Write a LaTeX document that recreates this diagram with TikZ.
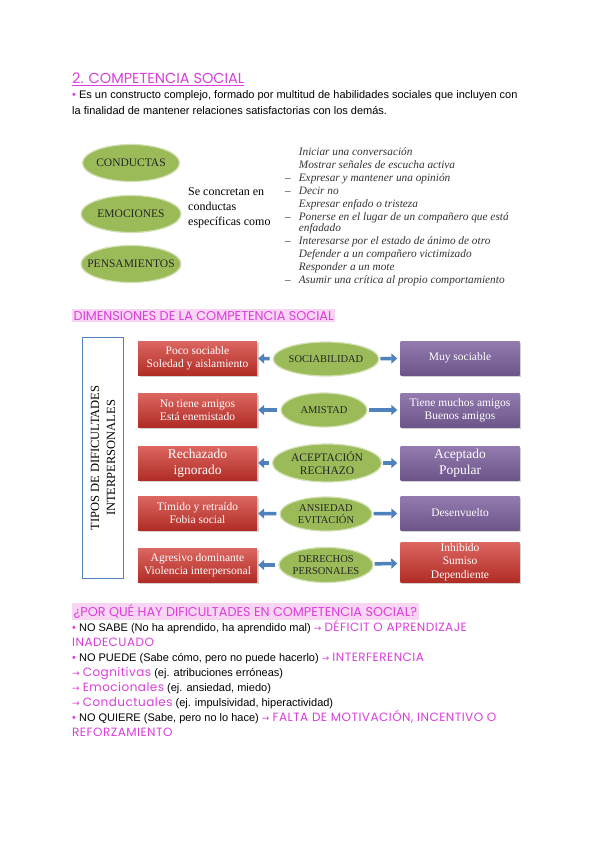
\documentclass[tikz,border=0pt]{standalone}
\usepackage{fontspec}
\setmainfont{Liberation Serif}
\setsansfont{Liberation Sans}
\newfontfamily\headfont{Poppins}
\newfontfamily\headwide[LetterSpace=4]{Poppins}
\newfontfamily\symfont{DejaVu Sans}
\usetikzlibrary{arrows.meta, positioning, shapes.geometric, shadows}
\definecolor{headmag}{HTML}{DB3EDB}
\definecolor{hlpink}{HTML}{F8D5F3}
\definecolor{ovalgreen}{HTML}{9BBB59}
\definecolor{boxred}{HTML}{D0342C}
\definecolor{boxpurple}{HTML}{8064A2}
\definecolor{arrowblue}{HTML}{4F81BD}
\definecolor{listgrey}{HTML}{333333}
\newcommand{\punto}{{\color{headmag}\textbullet}}
\newcommand{\flecha}{{\symfont\fontsize{9}{10}\selectfont\color{headmag}→}}
\newcommand{\magtxt}[1]{{\headwide\fontsize{12}{13}\selectfont\color{headmag}#1}}

\begin{document}
\begin{tikzpicture}[x=1pt, y=-1pt,
  headtxt/.style={font=\headfont\fontsize{12.8}{15}\selectfont, text=headmag, anchor=base west, inner sep=0pt},
  hilite/.style={headtxt, fill=hlpink, inner sep=1.5pt},
  bodytxt/.style={font=\sffamily\fontsize{11}{13}\selectfont, anchor=base west, inner sep=0pt},
  greenoval/.style={ellipse, fill=ovalgreen, draw=ovalgreen!45!white, line width=1.2pt, inner sep=0pt,
    align=center, text=black!85, font=\fontsize{10.5}{12}\selectfont},
  topoval/.style={greenoval, minimum height=37pt, inner xsep=-12pt, font=\fontsize{11.5}{13}\selectfont},
  dimbox/.style={rectangle, minimum width=119pt, minimum height=34pt, inner sep=1pt, text=white,
    align=center, font=\fontsize{11.5}{13.5}\selectfont,
    drop shadow={opacity=0.35, shadow xshift=1.5pt, shadow yshift=-1.5pt}},
  negbox/.style={dimbox, top color=boxred!75!white, bottom color=boxred!85!black},
  posbox/.style={dimbox, top color=boxpurple!85!white, bottom color=boxpurple!85!black},
  sidearrow/.style={draw=arrowblue, line width=3.5pt, -{Triangle[length=6pt, width=10pt]}}
]
\useasboundingbox[fill=white] (0,0) rectangle (600,848);

% encabezado
\node[headtxt, font=\headfont\fontsize{14.5}{17}\selectfont] (titulo) at (72,84) {\underline{2. COMPETENCIA SOCIAL}};
\node[bodytxt] (def1) at (72,99) {\punto{} Es un constructo complejo, formado por multitud de habilidades sociales que incluyen con};
\node[bodytxt] (def2) at (72,115) {la finalidad de mantener relaciones satisfactorias con los demás.};

% componentes
\node[topoval, minimum width=97pt] (conductas) at (131,163) {CONDUCTAS};
\node[topoval, minimum width=100pt] (emociones) at (131,214) {EMOCIONES};
\node[topoval, minimum width=100pt] (pensamientos) at (131,264) {PENSAMIENTOS};
\node[anchor=west, align=left, inner sep=0pt, font=\fontsize{12}{15}\selectfont] (concretan) at (188,208)
  {Se concretan en\\conductas\\específicas como};
\node[anchor=base west, inner sep=0pt, text=listgrey, font=\itshape\fontsize{11.3}{13}\selectfont] (lista) at (285,155)
  {\begin{tabular}[t]{@{}l@{\hspace{8pt}}l@{}}
   & Iniciar una conversación\\
   & Mostrar señales de escucha activa\\
  -- & Expresar y mantener una opinión\\
  -- & Decir no\\
   & Expresar enfado o tristeza\\
  -- & Ponerse en el lugar de un compañero que está\\[-2pt]
   & enfadado\\
  -- & Interesarse por el estado de ánimo de otro\\
   & Defender a un compañero victimizado\\
   & Responder a un mote\\
  -- & Asumir una crítica al propio comportamiento
  \end{tabular}};

% dimensiones
\node[hilite] (dimtit) at (72,320) {DIMENSIONES DE LA COMPETENCIA SOCIAL};
\node[draw=arrowblue, line width=1pt, fill=white, rotate=90, minimum width=241pt, minimum height=41pt,
  align=center, inner sep=0pt, font=\fontsize{12.5}{16}\selectfont] (tipos) at (103,458)
  {TIPOS DE DIFICULTADES\\INTERPERSONALES};

\node[negbox] (poco) at (197.5,358) {Poco sociable\\Soledad y aislamiento};
\node[greenoval, minimum width=92pt, minimum height=34pt, font=\fontsize{10.5}{12}\selectfont] (sociab) at (326,359) {SOCIABILIDAD};
\node[posbox] (muy) at (460,358) {Muy sociable};

\node[negbox] (noamigos) at (197.5,410) {No tiene amigos\\Está enemistado};
\node[greenoval, minimum width=86pt, minimum height=34pt, font=\fontsize{10.5}{12}\selectfont] (amistad) at (324,410) {AMISTAD};
\node[posbox] (muchos) at (460,410) {Tiene muchos amigos\\Buenos amigos};

\node[negbox, font=\fontsize{13.5}{16}\selectfont] (rechazado) at (197.5,463) {Rechazado\\ignorado};
\node[greenoval, minimum width=109pt, minimum height=38pt, font=\fontsize{11.5}{13}\selectfont] (acept) at (327,463) {ACEPTACIÓN\\RECHAZO};
\node[posbox, font=\fontsize{13.5}{16}\selectfont] (aceptado) at (460,463) {Aceptado\\Popular};

\node[negbox] (timido) at (197.5,513) {Tímido y retraído\\Fobia social};
\node[greenoval, minimum width=92pt, minimum height=34pt] (ansiedad) at (326,514) {ANSIEDAD\\EVITACIÓN};
\node[posbox] (desenv) at (460,513) {Desenvuelto};

\node[negbox] (agresivo) at (197.5,565) {Agresivo dominante\\Violencia interpersonal};
\node[greenoval, minimum width=94pt, minimum height=35pt] (derechos) at (326,565) {DERECHOS\\PERSONALES};
\node[negbox, minimum height=40pt] (inhibido) at (460,562) {Inhibido\\Sumiso\\Dependiente};

\foreach \o/\l/\r in {sociab/poco/muy, amistad/noamigos/muchos, acept/rechazado/aceptado,
                      ansiedad/timido/desenv, derechos/agresivo/inhibido} {
  \draw[sidearrow, shorten <=3pt, shorten >=1pt] (\o) -- (\l);
  \draw[sidearrow, shorten <=1pt, shorten >=3pt] (\o) -- (\r);
}

% dificultades
\node[hilite] (portit) at (72,616) {¿POR QUÉ HAY DIFICULTADES EN COMPETENCIA SOCIAL?};
\node[bodytxt] (sabe) at (72,631) {\punto{} NO SABE (No ha aprendido, ha aprendido mal) \flecha{} \magtxt{DÉFICIT O APRENDIZAJE}};
\node[bodytxt] (sabe2) at (72,646) {\magtxt{INADECUADO}};
\node[bodytxt] (puede) at (72,661) {\punto{} NO PUEDE (Sabe cómo, pero no puede hacerlo) \flecha{} \magtxt{INTERFERENCIA}};
\node[bodytxt] (cogn) at (72,676) {\flecha{} \magtxt{Cognitivas} (ej. atribuciones erróneas)};
\node[bodytxt] (emoc) at (72,691) {\flecha{} \magtxt{Emocionales} (ej. ansiedad, miedo)};
\node[bodytxt] (cond) at (72,706) {\flecha{} \magtxt{Conductuales} (ej. impulsividad, hiperactividad)};
\node[bodytxt] (quiere) at (72,721) {\punto{} NO QUIERE (Sabe, pero no lo hace) \flecha{} \magtxt{FALTA DE MOTIVACIÓN, INCENTIVO O}};
\node[bodytxt] (quiere2) at (72,736) {\magtxt{REFORZAMIENTO}};
\end{tikzpicture}
\end{document}
